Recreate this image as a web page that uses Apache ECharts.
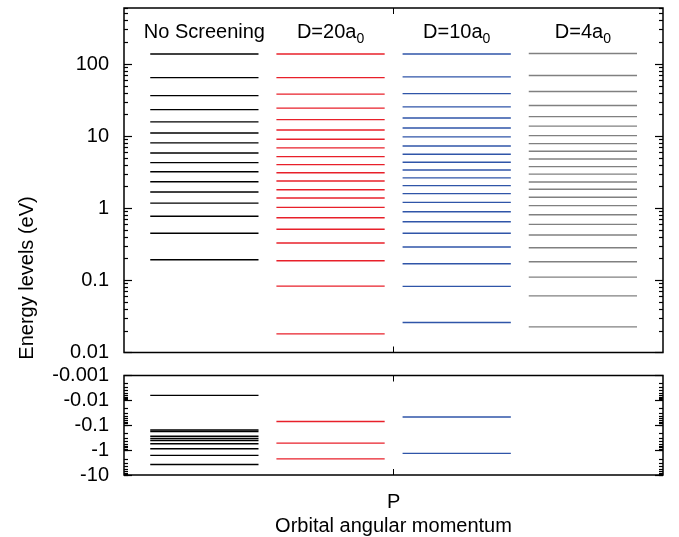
<!DOCTYPE html>
<html>
<head>
<meta charset="utf-8">
<script src="https://cdn.jsdelivr.net/npm/echarts@6/dist/echarts.min.js"></script>
<style>
  html, body { margin: 0; padding: 0; background: #fff; }
  #chart { width: 679px; height: 537px; }
</style>
</head>
<body>
<div id="chart"></div>
<script>
// column titles (base text + subscript)
const colTitles = [['No Screening', ''], ['D=20a', '0'], ['D=10a', '0'], ['D=4a', '0']];
const colX = [-1.5, -0.5, 0.5, 1.5];
const colColors = ['#000000', '#e8202a', '#2f55a8', '#808080'];

// positive energy levels (eV)
const noScreenPos = [138, 65, 36.6, 23.4, 15.8, 11.1, 8.07, 5.86, 4.30, 3.22, 2.34, 1.68, 1.18, 0.774, 0.45, 0.193];
const d20Pos = [138, 65, 38.3, 24.5, 17.0, 12.2, 9.09, 6.88, 5.21, 4.03, 3.11, 2.39, 1.81, 1.39, 1.03, 0.74, 0.511, 0.330, 0.187, 0.0833, 0.0181];
const d10Pos = [138, 66.6, 39.0, 25.5, 17.9, 13.0, 9.78, 7.33, 5.62, 4.35, 3.40, 2.64, 2.06, 1.60, 1.21, 0.897, 0.651, 0.450, 0.290, 0.170, 0.0826, 0.0261];
const d4Pos = [140, 69.5, 41.6, 26.6, 18.7, 13.8, 10.2, 7.89, 6.19, 4.84, 3.78, 2.98, 2.32, 1.84, 1.42, 1.09, 0.815, 0.599, 0.426, 0.284, 0.181, 0.111, 0.0611, 0.0227];

// bound (negative) energy levels (eV)
const noScreenNeg = [-0.0063, -0.156, -0.178, -0.277, -0.34, -0.41, -0.558, -0.88, -1.62, -3.78];
const d20Neg = [-0.0708, -0.524, -2.25];
const d10Neg = [-0.0466, -1.35];
const d4Neg = [];

// tick labels
const topTicks = [0.01, 0.1, 1, 10, 100];
const bottomTicks = [0.001, 0.01, 0.1, 1, 10];

const HALF = 0.429;
const FONT = 'Liberation Sans, Arial, Helvetica, sans-serif';

// minor log ticks at 2..9 of each decade
function minorsOf(decades, max) {
  const out = [];
  decades.forEach(d => {
    for (let m = 2; m <= 9; m++) {
      const v = d * m;
      if (v <= max) out.push(+v.toPrecision(3));
    }
  });
  return out;
}
const topMinor = minorsOf(topTicks, 600);
const bottomMinor = minorsOf(bottomTicks.slice(0, 4), 10);

const chart = echarts.init(document.getElementById('chart'));

const TOP_RECT = { left: 124, right: 16, top: 8, bottom: 184.5 };
const BOT_RECT = { left: 124, right: 16, top: 375.5, bottom: 60.3 };

function xAxisCfg(grid, pos, ticks, withLabel) {
  return {
    type: 'value', gridIndex: grid, position: pos, min: -2.137, max: 2.135,
    axisLine: { show: false, onZero: false }, splitLine: { show: false },
    axisTick: ticks
      ? { inside: true, length: 6, customValues: [0], lineStyle: { color: '#000', width: 1 } }
      : { show: false },
    axisLabel: withLabel
      ? { customValues: [0], formatter: () => 'P', fontSize: 20, color: '#000', fontFamily: FONT, margin: 17 }
      : { show: false },
    name: withLabel ? 'Orbital angular momentum' : '',
    nameLocation: 'middle', nameGap: 41,
    nameTextStyle: { fontSize: 20, color: '#000', fontFamily: FONT }
  };
}

function yAxisCfg(grid, pos, min, max, ticks, len, labels, inverse, neg) {
  return {
    type: 'log', logBase: 10, gridIndex: grid, position: pos, min: min, max: max, inverse: inverse,
    axisLine: { show: false, onZero: false }, splitLine: { show: false },
    axisTick: { inside: true, length: len, customValues: ticks, lineStyle: { color: '#000', width: 1.2 } },
    axisLabel: labels
      ? { customValues: ticks, fontSize: 20, color: '#000', fontFamily: FONT, margin: 15,
          formatter: v => (neg ? '-' : '') + String(+(+v).toPrecision(3)) }
      : { show: false }
  };
}

function levelSeries(xi, yi, colIdx, values) {
  return {
    type: 'custom', xAxisIndex: xi, yAxisIndex: yi, silent: true,
    data: values.map(v => [colX[colIdx], Math.abs(v)]),
    renderItem: (params, api) => {
      const p1 = api.coord([api.value(0) - HALF, api.value(1)]);
      const p2 = api.coord([api.value(0) + HALF, api.value(1)]);
      return {
        type: 'line',
        shape: { x1: p1[0], y1: p1[1], x2: p2[0], y2: p1[1] },
        style: { stroke: colColors[colIdx], lineWidth: 1.4 }
      };
    }
  };
}

const option = {
  backgroundColor: '#fff',
  animation: false,
  grid: [
    Object.assign({ show: true, borderColor: '#000', borderWidth: 1.5 }, TOP_RECT),
    Object.assign({ show: true, borderColor: '#000', borderWidth: 1.5 }, BOT_RECT),
    // overlay grids carrying the minor ticks
    Object.assign({ show: false }, TOP_RECT),
    Object.assign({ show: false }, BOT_RECT)
  ],
  xAxis: [
    xAxisCfg(0, 'bottom', true, false),
    xAxisCfg(0, 'top', true, false),
    xAxisCfg(1, 'bottom', true, true),
    xAxisCfg(1, 'top', true, false),
    xAxisCfg(2, 'bottom', false, false),
    xAxisCfg(3, 'bottom', false, false)
  ],
  yAxis: [
    yAxisCfg(0, 'left', 0.01, 600, topTicks, 8, true, false, false),
    yAxisCfg(0, 'right', 0.01, 600, topTicks, 8, false, false, false),
    yAxisCfg(1, 'left', 0.001, 10, bottomTicks, 8, true, true, true),
    yAxisCfg(1, 'right', 0.001, 10, bottomTicks, 8, false, true, false),
    yAxisCfg(2, 'left', 0.01, 600, topMinor, 4, false, false, false),
    yAxisCfg(2, 'right', 0.01, 600, topMinor, 4, false, false, false),
    yAxisCfg(3, 'left', 0.001, 10, bottomMinor, 4, false, true, false),
    yAxisCfg(3, 'right', 0.001, 10, bottomMinor, 4, false, true, false)
  ],
  series: [
    levelSeries(0, 0, 0, noScreenPos),
    levelSeries(0, 0, 1, d20Pos),
    levelSeries(0, 0, 2, d10Pos),
    levelSeries(0, 0, 3, d4Pos),
    levelSeries(2, 2, 0, noScreenNeg),
    levelSeries(2, 2, 1, d20Neg),
    levelSeries(2, 2, 2, d10Neg),
    levelSeries(2, 2, 3, d4Neg)
  ]
};

chart.setOption(option);

// column titles and y axis name
const graphics = colTitles.map((t, i) => ({
  type: 'text',
  x: chart.convertToPixel({ xAxisIndex: 0 }, colX[i]),
  y: 36,
  style: {
    text: t[1] ? '{n|' + t[0] + '}{s|' + t[1] + '}' : '{n|' + t[0] + '}',
    align: 'center', verticalAlign: 'middle',
    rich: {
      n: { fontSize: 20, fontFamily: FONT, fill: '#000', lineHeight: 20, padding: [0, 0, 4, 0], verticalAlign: 'bottom' },
      s: { fontSize: 14, fontFamily: FONT, fill: '#000', lineHeight: 14, verticalAlign: 'bottom' }
    }
  }
}));
graphics.push({
  type: 'text', x: 27, y: 278, rotation: Math.PI / 2,
  style: { text: 'Energy levels (eV)', fontSize: 20, fontFamily: FONT, fill: '#000', align: 'center', verticalAlign: 'middle' }
});
chart.setOption({ graphic: graphics });
</script>
</body>
</html>
